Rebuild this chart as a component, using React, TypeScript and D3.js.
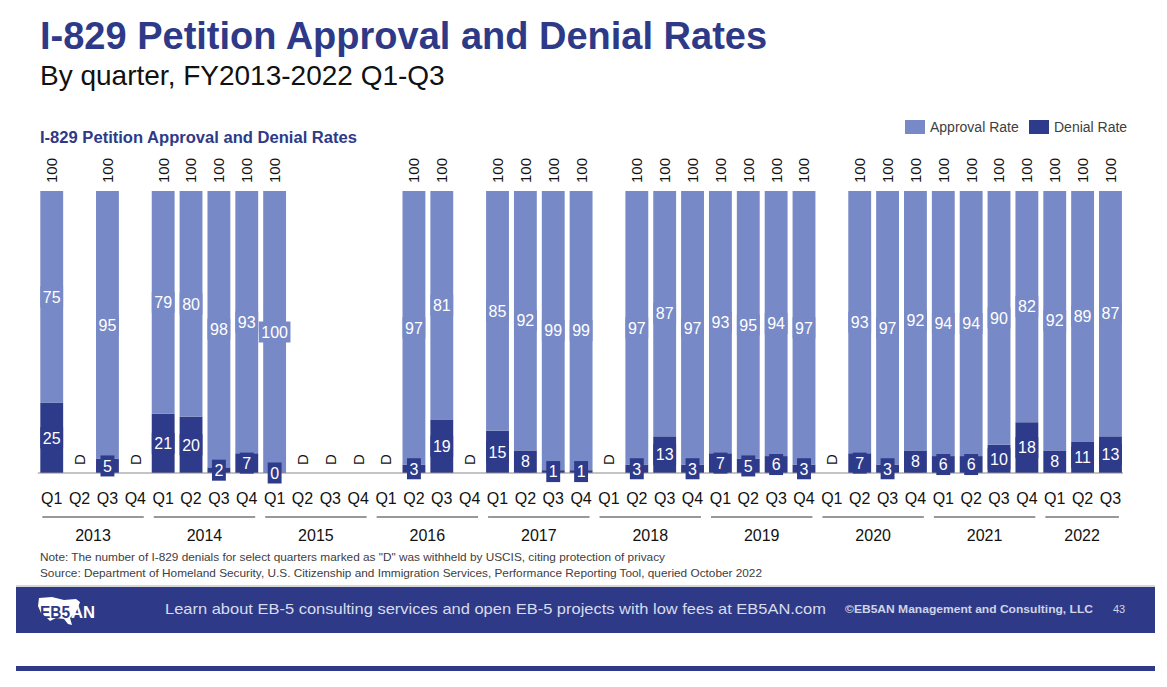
import React from "react";
import * as d3 from "d3";

const years = ["2013", "2014", "2015", "2016", "2017", "2018", "2019", "2020", "2021", "2022"];
const quarterNames = ["Q1", "Q2", "Q3", "Q4"];
// null = withheld ("D")
const approvalRate: (number | null)[] = [
  75, null, 95, null,
  79, 80, 98, 93,
  100, null, null, null,
  null, 97, 81, null,
  85, 92, 99, 99,
  null, 97, 87, 97,
  93, 95, 94, 97,
  null, 93, 97, 92,
  94, 94, 90, 82,
  92, 89, 87,
];
const denialRate: (number | null)[] = [
  25, null, 5, null,
  21, 20, 2, 7,
  0, null, null, null,
  null, 3, 19, null,
  15, 8, 1, 1,
  null, 3, 13, 3,
  7, 5, 6, 3,
  null, 7, 3, 8,
  6, 6, 10, 18,
  8, 11, 13,
];

const LIGHT = "#7789C6";
const DARK = "#2E3A8A";
const NAVY = "#2E3A87";
const FONT = "'Liberation Sans', Arial, sans-serif";

const W = 1167;
const H = 687;

export default function App() {
  const n = approvalRate.length;
  const idx = d3.range(n);
  const x = d3
    .scaleBand<number>()
    .domain(idx)
    .range([37.8, 1124.4])
    .paddingInner(0.18)
    .paddingOuter(0.09);
  const y = d3.scaleLinear().domain([0, 100]).range([473, 191]);
  const bw = x.bandwidth();
  const labelFs = 16;
  const digitW = labelFs * 0.556;

  const yearGroups = years.map((yr, k) => {
    const s = k * 4;
    const e = Math.min(k * 4 + 3, n - 1);
    return { yr, s, e };
  });

  const box = (cx: number, cy: number, text: string, fill: string, key: string) => {
    const tw = text.length * digitW;
    const bwid = tw + 5;
    const bh = 21;
    return (
      <g key={key}>
        <rect x={cx - bwid / 2} y={cy - bh / 2} width={bwid} height={bh} fill={fill} />
        <text
          x={cx}
          y={cy}
          dy="0.36em"
          textAnchor="middle"
          fontSize={labelFs}
          fill="#fff"
          fontFamily={FONT}
        >
          {text}
        </text>
      </g>
    );
  };

  return (
    <svg
      width={W}
      height={H}
      style={{ position: "absolute", left: 0, top: 0, background: "#fff" }}
      fontFamily={FONT}
    >
      <text x={40} y={49} fontSize={38} fontWeight="bold" fill={NAVY}>
        I-829 Petition Approval and Denial Rates
      </text>
      <text x={40} y={85} fontSize={28} fill="#111">
        By quarter,  FY2013-2022 Q1-Q3
      </text>
      <text x={40} y={143} fontSize={16} fontWeight="bold" fill={NAVY} textLength={317} lengthAdjust="spacingAndGlyphs">
        I-829 Petition Approval and Denial Rates
      </text>

      <rect x={905} y={120} width={20} height={14} fill={LIGHT} />
      <text x={930} y={132} fontSize={14} fill="#404040">Approval Rate</text>
      <rect x={1029} y={120} width={20} height={14} fill={DARK} />
      <text x={1054} y={132} fontSize={14} fill="#404040">Denial Rate</text>

      {idx.map((i) => {
        const a = approvalRate[i];
        const d = denialRate[i];
        if (a === null || d === null) return null;
        const x0 = x(i)!;
        return (
          <g key={"b" + i}>
            <rect x={x0} y={y(d)} width={bw} height={y(0) - y(d)} fill={DARK} />
            <rect x={x0} y={y(d + a)} width={bw} height={y(d) - y(d + a)} fill={LIGHT} />
          </g>
        );
      })}

      <line x1={37.8} x2={1123} y1={y(0)} y2={y(0)} stroke="#8a8a8a" strokeWidth={1.2} />

      {idx.map((i) => {
        const a = approvalRate[i];
        const d = denialRate[i];
        if (a === null || d === null) return null;
        const cx = x(i)! + bw / 2;
        const cy = (y(d) + y(d + a)) / 2;
        return box(cx, cy, String(a), LIGHT, "a" + i);
      })}

      {idx.map((i) => {
        const a = approvalRate[i];
        const d = denialRate[i];
        if (a === null || d === null) return null;
        const cx = x(i)! + bw / 2;
        const cy = (y(0) + y(d)) / 2;
        return box(cx, cy, String(d), DARK, "d" + i);
      })}

      {idx.map((i) => {
        const a = approvalRate[i];
        const d = denialRate[i];
        const cx = x(i)! + bw / 2;
        const withheld = a === null || d === null;
        const top = withheld ? y(0) : y((a as number) + (d as number));
        const label = withheld ? "D" : String((a as number) + (d as number));
        const ty = top - 8;
        return (
          <text
            key={"t" + i}
            transform={`translate(${cx},${ty}) rotate(-90)`}
            dy="0.36em"
            textAnchor="start"
            fontSize={15}
            fill="#111"
          >
            {label}
          </text>
        );
      })}

      {idx.map((i) => (
        <text key={"q" + i} x={x(i)! + bw / 2} y={504} textAnchor="middle" fontSize={16} fill="#111">
          {quarterNames[i % 4]}
        </text>
      ))}

      {yearGroups.map((g) => {
        const x1 = x(g.s)! + 2;
        const x2 = x(g.e)! + bw - 3;
        return (
          <g key={g.yr}>
            <line x1={x1} x2={x2} y1={517} y2={517} stroke="#333" strokeWidth={1} />
            <text x={(x1 + x2) / 2} y={541} textAnchor="middle" fontSize={16} fill="#111">
              {g.yr}
            </text>
          </g>
        );
      })}

      <text x={40} y={561} fontSize={11.5} fill="#404040" textLength={625} lengthAdjust="spacingAndGlyphs">
        Note: The number of I-829 denials for select quarters marked as "D" was withheld by USCIS, citing protection of privacy
      </text>
      <text x={40} y={577} fontSize={11.5} fill="#404040" textLength={722} lengthAdjust="spacingAndGlyphs">
        Source: Department of Homeland Security, U.S. Citizenship and Immigration Services, Performance Reporting Tool, queried October 2022
      </text>

      <line x1={16} x2={1155} y1={586} y2={586} stroke="#b0b0b0" strokeWidth={1} />
      <rect x={16} y={587} width={1139} height={46} fill={NAVY} />
      <path
        d="M39,598 L52,597 L64,600 L76,599 L80,602 L78,608 L74,614 L70,618 L72,625 L68,624 L64,619 L56,618 L50,621 L46,617 L41,613 L38,606 Z"
        fill="#fff"
      />
      <text x={40} y={618} fontSize={16} fontWeight="bold" fill={NAVY} textLength={30} lengthAdjust="spacingAndGlyphs">EB5</text>
      <text x={71} y={618} fontSize={16} fontWeight="bold" fill="#fff" textLength={24} lengthAdjust="spacingAndGlyphs">AN</text>
      <text x={165} y={614} fontSize={15} fill="#D8DCEE" textLength={661} lengthAdjust="spacingAndGlyphs">
        Learn about EB-5 consulting services and open EB-5 projects with low fees at EB5AN.com
      </text>
      <text x={845} y={613} fontSize={11.5} fontWeight="bold" fill="#D0D4E8" textLength={248} lengthAdjust="spacingAndGlyphs">
        ©EB5AN Management and Consulting, LLC
      </text>
      <text x={1113} y={613} fontSize={11} fill="#D0D4E8">43</text>

      <rect x={16} y={666} width={1139} height={5} fill={NAVY} />
    </svg>
  );
}
